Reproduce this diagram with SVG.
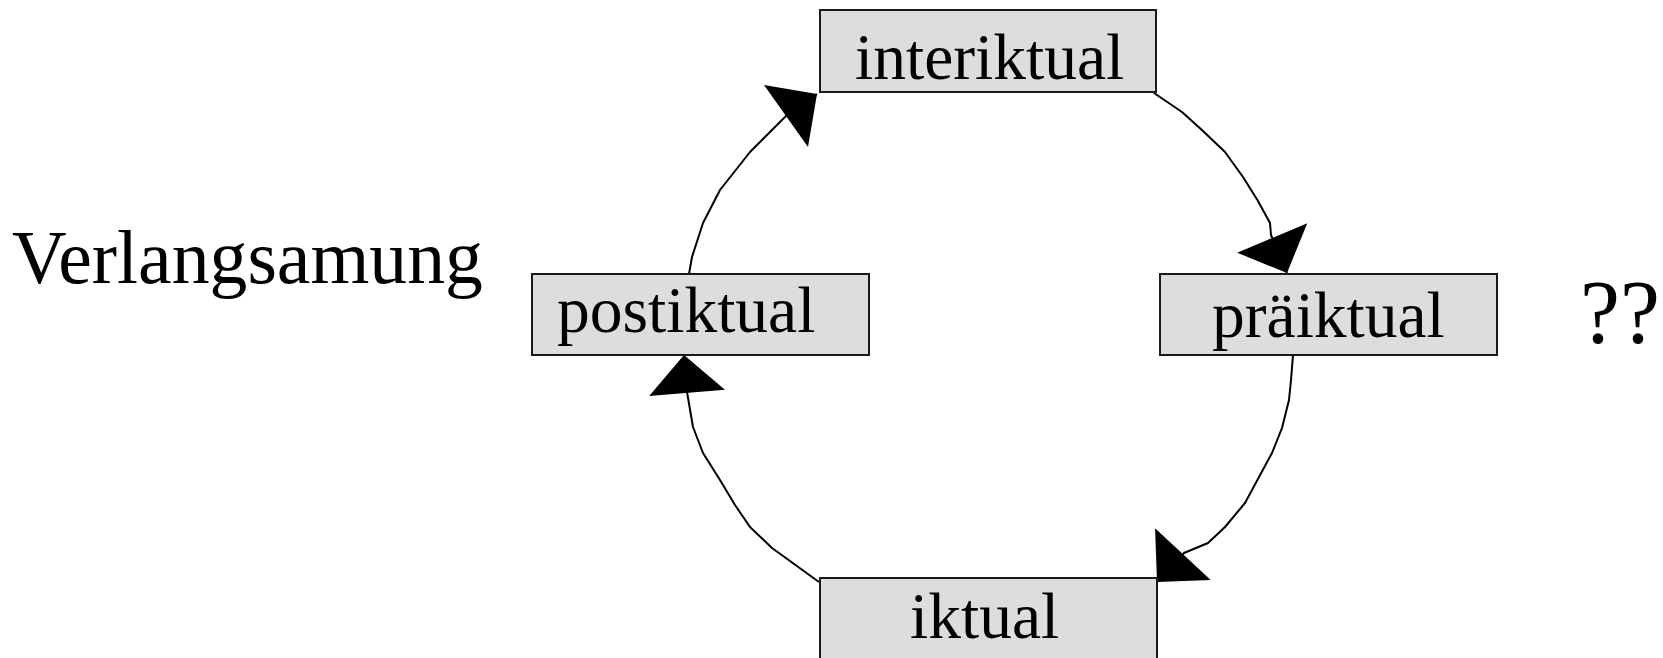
<svg xmlns="http://www.w3.org/2000/svg" width="1663" height="658" viewBox="0 0 1663 658">
<defs>
<style>
.box{fill:#dddddd;stroke:#1a1a1a;stroke-width:2}
.lbl{font-family:"Liberation Serif","Times New Roman",serif;font-size:65.5px;fill:#000}
.big{font-family:"Liberation Serif","Times New Roman",serif;fill:#000}
.edge{fill:none;stroke:#000;stroke-width:2;stroke-linejoin:round}
</style>
<marker id="ah" markerUnits="userSpaceOnUse" markerWidth="80" markerHeight="80" viewBox="-40 -40 80 80" refX="0" refY="0" orient="auto">
<path d="M0,0 L-38,-38 L-38,38 Z" fill="#000"/>
</marker>
</defs>
<rect width="1663" height="658" fill="#fff"/>
<g id="connectors">
<path class="edge" marker-end="url(#ah)" d="M689,274 L692,257 L703,223 L720,190 L750,152 L786,116 L817,94"/>
<path class="edge" marker-end="url(#ah)" d="M1154,93 L1182,112 L1203,131 L1225,152 L1243,177 L1258,201 L1270,223 L1271,235 L1287,273"/>
<path class="edge" marker-end="url(#ah)" d="M1293,355 L1291,380 L1289,400 L1282,428 L1272,453 L1245,503 L1225,527 L1208,543 L1184,553 L1157,582"/>
<path class="edge" marker-end="url(#ah)" d="M819,582 L772,548 L750,527 L735,505 L720,480 L703,453 L693,427 L687,392 L684,355"/>
</g>
<g id="node-interiktual">
<rect class="box" x="820" y="10" width="336" height="82"/>
<text class="lbl" x="855" y="79">interiktual</text>
</g>
<g id="node-praeiktual">
<rect class="box" x="1160" y="274" width="337" height="81"/>
<text class="lbl" x="1212" y="337">präiktual</text>
</g>
<g id="node-postiktual">
<rect class="box" x="532" y="274" width="337" height="81"/>
<text class="lbl" x="557" y="332">postiktual</text>
</g>
<g id="node-iktual">
<rect class="box" x="820" y="578" width="337" height="82"/>
<text class="lbl" x="910" y="638">iktual</text>
</g>
<g id="label-verlangsamung">
<text class="big" x="12" y="283" font-size="75.7">Verlangsamung</text>
</g>
<g id="label-questions">
<text class="big" x="1580" y="343" font-size="90">??</text>
</g>
</svg>
